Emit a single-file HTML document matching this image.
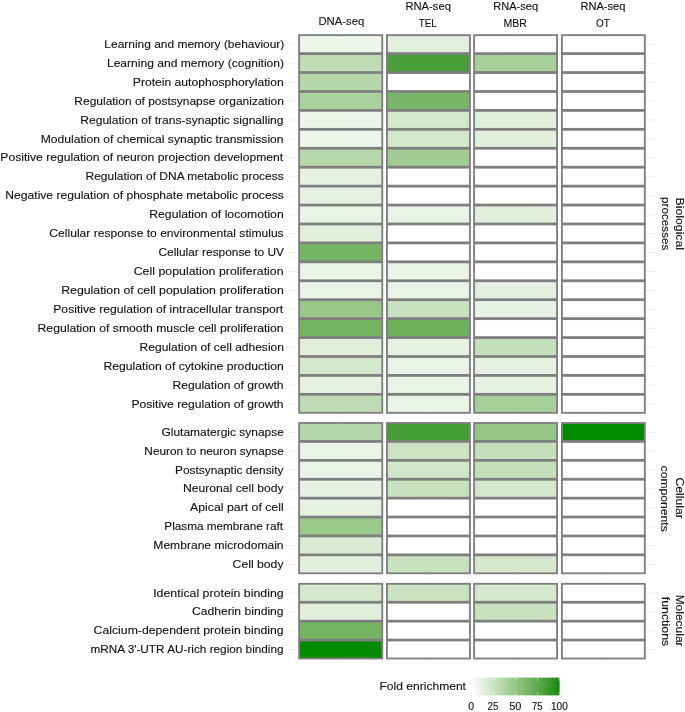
<!DOCTYPE html><html><head><meta charset="utf-8"><title>Fold enrichment heatmap</title><style>
html,body{margin:0;padding:0;background:#fff;}
svg{display:block;}
text{font-family:"Liberation Sans",sans-serif;fill:#111;stroke:#111;stroke-width:0.12px;}
</style></head><body>
<svg width="685" height="712" viewBox="0 0 685 712">
<rect width="685" height="712" fill="#fff"/>
<g stroke="#dedede" stroke-width="0.55">
<line x1="288.5" x2="655.6" y1="44.35" y2="44.35"/>
<line x1="288.5" x2="655.6" y1="63.28" y2="63.28"/>
<line x1="288.5" x2="655.6" y1="82.21" y2="82.21"/>
<line x1="288.5" x2="655.6" y1="101.14" y2="101.14"/>
<line x1="288.5" x2="655.6" y1="120.07" y2="120.07"/>
<line x1="288.5" x2="655.6" y1="139.00" y2="139.00"/>
<line x1="288.5" x2="655.6" y1="157.93" y2="157.93"/>
<line x1="288.5" x2="655.6" y1="176.86" y2="176.86"/>
<line x1="288.5" x2="655.6" y1="195.79" y2="195.79"/>
<line x1="288.5" x2="655.6" y1="214.72" y2="214.72"/>
<line x1="288.5" x2="655.6" y1="233.65" y2="233.65"/>
<line x1="288.5" x2="655.6" y1="252.58" y2="252.58"/>
<line x1="288.5" x2="655.6" y1="271.51" y2="271.51"/>
<line x1="288.5" x2="655.6" y1="290.44" y2="290.44"/>
<line x1="288.5" x2="655.6" y1="309.37" y2="309.37"/>
<line x1="288.5" x2="655.6" y1="328.30" y2="328.30"/>
<line x1="288.5" x2="655.6" y1="347.23" y2="347.23"/>
<line x1="288.5" x2="655.6" y1="366.16" y2="366.16"/>
<line x1="288.5" x2="655.6" y1="385.09" y2="385.09"/>
<line x1="288.5" x2="655.6" y1="404.02" y2="404.02"/>
<line x1="340.70" x2="340.70" y1="33.23" y2="414.75"/>
<line x1="428.42" x2="428.42" y1="33.23" y2="414.75"/>
<line x1="515.60" x2="515.60" y1="33.23" y2="414.75"/>
<line x1="603.38" x2="603.38" y1="33.23" y2="414.75"/>
<line x1="288.5" x2="655.6" y1="432.20" y2="432.20"/>
<line x1="288.5" x2="655.6" y1="451.10" y2="451.10"/>
<line x1="288.5" x2="655.6" y1="470.00" y2="470.00"/>
<line x1="288.5" x2="655.6" y1="488.90" y2="488.90"/>
<line x1="288.5" x2="655.6" y1="507.80" y2="507.80"/>
<line x1="288.5" x2="655.6" y1="526.70" y2="526.70"/>
<line x1="288.5" x2="655.6" y1="545.60" y2="545.60"/>
<line x1="288.5" x2="655.6" y1="564.50" y2="564.50"/>
<line x1="340.70" x2="340.70" y1="421.07" y2="575.22"/>
<line x1="428.42" x2="428.42" y1="421.07" y2="575.22"/>
<line x1="515.60" x2="515.60" y1="421.07" y2="575.22"/>
<line x1="603.38" x2="603.38" y1="421.07" y2="575.22"/>
<line x1="288.5" x2="655.6" y1="593.00" y2="593.00"/>
<line x1="288.5" x2="655.6" y1="611.90" y2="611.90"/>
<line x1="288.5" x2="655.6" y1="630.80" y2="630.80"/>
<line x1="288.5" x2="655.6" y1="649.70" y2="649.70"/>
<line x1="340.70" x2="340.70" y1="581.88" y2="660.42"/>
<line x1="428.42" x2="428.42" y1="581.88" y2="660.42"/>
<line x1="515.60" x2="515.60" y1="581.88" y2="660.42"/>
<line x1="603.38" x2="603.38" y1="581.88" y2="660.42"/>
</g>
<g stroke="#7f7f7f" stroke-width="1.85">
<rect x="299.12" y="35.15" width="83.15" height="18.00" fill="#eef6eb"/>
<rect x="386.93" y="35.15" width="82.99" height="18.00" fill="#e4f0df"/>
<rect x="474.12" y="35.15" width="82.95" height="18.00" fill="#ffffff"/>
<rect x="561.92" y="35.15" width="82.91" height="18.00" fill="#ffffff"/>
<rect x="299.12" y="54.08" width="83.15" height="18.00" fill="#bedbb3"/>
<rect x="386.93" y="54.08" width="82.99" height="18.00" fill="#4a9f3a"/>
<rect x="474.12" y="54.08" width="82.95" height="18.00" fill="#a7cf99"/>
<rect x="561.92" y="54.08" width="82.91" height="18.00" fill="#ffffff"/>
<rect x="299.12" y="73.01" width="83.15" height="18.00" fill="#b6d7aa"/>
<rect x="386.93" y="73.01" width="82.99" height="18.00" fill="#ffffff"/>
<rect x="474.12" y="73.01" width="82.95" height="18.00" fill="#ffffff"/>
<rect x="561.92" y="73.01" width="82.91" height="18.00" fill="#ffffff"/>
<rect x="299.12" y="91.94" width="83.15" height="18.00" fill="#abd19e"/>
<rect x="386.93" y="91.94" width="82.99" height="18.00" fill="#79b669"/>
<rect x="474.12" y="91.94" width="82.95" height="18.00" fill="#ffffff"/>
<rect x="561.92" y="91.94" width="82.91" height="18.00" fill="#ffffff"/>
<rect x="299.12" y="110.87" width="83.15" height="18.00" fill="#eef6eb"/>
<rect x="386.93" y="110.87" width="82.99" height="18.00" fill="#d3e7cb"/>
<rect x="474.12" y="110.87" width="82.95" height="18.00" fill="#e2efdc"/>
<rect x="561.92" y="110.87" width="82.91" height="18.00" fill="#ffffff"/>
<rect x="299.12" y="129.80" width="83.15" height="18.00" fill="#eef6eb"/>
<rect x="386.93" y="129.80" width="82.99" height="18.00" fill="#d3e7cb"/>
<rect x="474.12" y="129.80" width="82.95" height="18.00" fill="#e2efdc"/>
<rect x="561.92" y="129.80" width="82.91" height="18.00" fill="#ffffff"/>
<rect x="299.12" y="148.73" width="83.15" height="18.00" fill="#b8d8ac"/>
<rect x="386.93" y="148.73" width="82.99" height="18.00" fill="#a3cc95"/>
<rect x="474.12" y="148.73" width="82.95" height="18.00" fill="#ffffff"/>
<rect x="561.92" y="148.73" width="82.91" height="18.00" fill="#ffffff"/>
<rect x="299.12" y="167.66" width="83.15" height="18.00" fill="#e6f1e1"/>
<rect x="386.93" y="167.66" width="82.99" height="18.00" fill="#ffffff"/>
<rect x="474.12" y="167.66" width="82.95" height="18.00" fill="#ffffff"/>
<rect x="561.92" y="167.66" width="82.91" height="18.00" fill="#ffffff"/>
<rect x="299.12" y="186.59" width="83.15" height="18.00" fill="#e6f1e1"/>
<rect x="386.93" y="186.59" width="82.99" height="18.00" fill="#ffffff"/>
<rect x="474.12" y="186.59" width="82.95" height="18.00" fill="#ffffff"/>
<rect x="561.92" y="186.59" width="82.91" height="18.00" fill="#ffffff"/>
<rect x="299.12" y="205.52" width="83.15" height="18.00" fill="#eaf4e6"/>
<rect x="386.93" y="205.52" width="82.99" height="18.00" fill="#eaf4e6"/>
<rect x="474.12" y="205.52" width="82.95" height="18.00" fill="#e2efdc"/>
<rect x="561.92" y="205.52" width="82.91" height="18.00" fill="#ffffff"/>
<rect x="299.12" y="224.45" width="83.15" height="18.00" fill="#e2efdc"/>
<rect x="386.93" y="224.45" width="82.99" height="18.00" fill="#ffffff"/>
<rect x="474.12" y="224.45" width="82.95" height="18.00" fill="#ffffff"/>
<rect x="561.92" y="224.45" width="82.91" height="18.00" fill="#ffffff"/>
<rect x="299.12" y="243.38" width="83.15" height="18.00" fill="#75b464"/>
<rect x="386.93" y="243.38" width="82.99" height="18.00" fill="#ffffff"/>
<rect x="474.12" y="243.38" width="82.95" height="18.00" fill="#ffffff"/>
<rect x="561.92" y="243.38" width="82.91" height="18.00" fill="#ffffff"/>
<rect x="299.12" y="262.31" width="83.15" height="18.00" fill="#eaf4e6"/>
<rect x="386.93" y="262.31" width="82.99" height="18.00" fill="#eaf4e6"/>
<rect x="474.12" y="262.31" width="82.95" height="18.00" fill="#ffffff"/>
<rect x="561.92" y="262.31" width="82.91" height="18.00" fill="#ffffff"/>
<rect x="299.12" y="281.24" width="83.15" height="18.00" fill="#eaf4e6"/>
<rect x="386.93" y="281.24" width="82.99" height="18.00" fill="#eaf4e6"/>
<rect x="474.12" y="281.24" width="82.95" height="18.00" fill="#e4f0df"/>
<rect x="561.92" y="281.24" width="82.91" height="18.00" fill="#ffffff"/>
<rect x="299.12" y="300.17" width="83.15" height="18.00" fill="#98c789"/>
<rect x="386.93" y="300.17" width="82.99" height="18.00" fill="#c8e1bf"/>
<rect x="474.12" y="300.17" width="82.95" height="18.00" fill="#e8f2e4"/>
<rect x="561.92" y="300.17" width="82.91" height="18.00" fill="#ffffff"/>
<rect x="299.12" y="319.10" width="83.15" height="18.00" fill="#73b362"/>
<rect x="386.93" y="319.10" width="82.99" height="18.00" fill="#6eb15d"/>
<rect x="474.12" y="319.10" width="82.95" height="18.00" fill="#ffffff"/>
<rect x="561.92" y="319.10" width="82.91" height="18.00" fill="#ffffff"/>
<rect x="299.12" y="338.03" width="83.15" height="18.00" fill="#e0eeda"/>
<rect x="386.93" y="338.03" width="82.99" height="18.00" fill="#e6f1e1"/>
<rect x="474.12" y="338.03" width="82.95" height="18.00" fill="#c4dfbb"/>
<rect x="561.92" y="338.03" width="82.91" height="18.00" fill="#ffffff"/>
<rect x="299.12" y="356.96" width="83.15" height="18.00" fill="#d3e7cb"/>
<rect x="386.93" y="356.96" width="82.99" height="18.00" fill="#eaf4e6"/>
<rect x="474.12" y="356.96" width="82.95" height="18.00" fill="#e6f1e1"/>
<rect x="561.92" y="356.96" width="82.91" height="18.00" fill="#ffffff"/>
<rect x="299.12" y="375.89" width="83.15" height="18.00" fill="#e6f1e1"/>
<rect x="386.93" y="375.89" width="82.99" height="18.00" fill="#eaf4e6"/>
<rect x="474.12" y="375.89" width="82.95" height="18.00" fill="#e6f1e1"/>
<rect x="561.92" y="375.89" width="82.91" height="18.00" fill="#ffffff"/>
<rect x="299.12" y="394.82" width="83.15" height="18.00" fill="#c0dcb6"/>
<rect x="386.93" y="394.82" width="82.99" height="18.00" fill="#eaf4e6"/>
<rect x="474.12" y="394.82" width="82.95" height="18.00" fill="#a7cf99"/>
<rect x="561.92" y="394.82" width="82.91" height="18.00" fill="#ffffff"/>
<rect x="299.12" y="423.00" width="83.15" height="18.00" fill="#b3d6a8"/>
<rect x="386.93" y="423.00" width="82.99" height="18.00" fill="#449d35"/>
<rect x="474.12" y="423.00" width="82.95" height="18.00" fill="#96c587"/>
<rect x="561.92" y="423.00" width="82.91" height="18.00" fill="#008b00"/>
<rect x="299.12" y="441.90" width="83.15" height="18.00" fill="#eaf4e6"/>
<rect x="386.93" y="441.90" width="82.99" height="18.00" fill="#cde3c4"/>
<rect x="474.12" y="441.90" width="82.95" height="18.00" fill="#c4dfbb"/>
<rect x="561.92" y="441.90" width="82.91" height="18.00" fill="#ffffff"/>
<rect x="299.12" y="460.80" width="83.15" height="18.00" fill="#eaf4e6"/>
<rect x="386.93" y="460.80" width="82.99" height="18.00" fill="#d1e6c9"/>
<rect x="474.12" y="460.80" width="82.95" height="18.00" fill="#c4dfbb"/>
<rect x="561.92" y="460.80" width="82.91" height="18.00" fill="#ffffff"/>
<rect x="299.12" y="479.70" width="83.15" height="18.00" fill="#e8f2e4"/>
<rect x="386.93" y="479.70" width="82.99" height="18.00" fill="#c8e1bf"/>
<rect x="474.12" y="479.70" width="82.95" height="18.00" fill="#d3e7cb"/>
<rect x="561.92" y="479.70" width="82.91" height="18.00" fill="#ffffff"/>
<rect x="299.12" y="498.60" width="83.15" height="18.00" fill="#e6f1e1"/>
<rect x="386.93" y="498.60" width="82.99" height="18.00" fill="#ffffff"/>
<rect x="474.12" y="498.60" width="82.95" height="18.00" fill="#ffffff"/>
<rect x="561.92" y="498.60" width="82.91" height="18.00" fill="#ffffff"/>
<rect x="299.12" y="517.50" width="83.15" height="18.00" fill="#9ac88b"/>
<rect x="386.93" y="517.50" width="82.99" height="18.00" fill="#ffffff"/>
<rect x="474.12" y="517.50" width="82.95" height="18.00" fill="#ffffff"/>
<rect x="561.92" y="517.50" width="82.91" height="18.00" fill="#ffffff"/>
<rect x="299.12" y="536.40" width="83.15" height="18.00" fill="#dbebd5"/>
<rect x="386.93" y="536.40" width="82.99" height="18.00" fill="#ffffff"/>
<rect x="474.12" y="536.40" width="82.95" height="18.00" fill="#ffffff"/>
<rect x="561.92" y="536.40" width="82.91" height="18.00" fill="#ffffff"/>
<rect x="299.12" y="555.30" width="83.15" height="18.00" fill="#e2efdc"/>
<rect x="386.93" y="555.30" width="82.99" height="18.00" fill="#c8e1bf"/>
<rect x="474.12" y="555.30" width="82.95" height="18.00" fill="#d5e8ce"/>
<rect x="561.92" y="555.30" width="82.91" height="18.00" fill="#ffffff"/>
<rect x="299.12" y="583.80" width="83.15" height="18.00" fill="#d5e8ce"/>
<rect x="386.93" y="583.80" width="82.99" height="18.00" fill="#cbe2c2"/>
<rect x="474.12" y="583.80" width="82.95" height="18.00" fill="#d5e8ce"/>
<rect x="561.92" y="583.80" width="82.91" height="18.00" fill="#ffffff"/>
<rect x="299.12" y="602.70" width="83.15" height="18.00" fill="#e2efdc"/>
<rect x="386.93" y="602.70" width="82.99" height="18.00" fill="#ffffff"/>
<rect x="474.12" y="602.70" width="82.95" height="18.00" fill="#c8e1bf"/>
<rect x="561.92" y="602.70" width="82.91" height="18.00" fill="#ffffff"/>
<rect x="299.12" y="621.60" width="83.15" height="18.00" fill="#75b464"/>
<rect x="386.93" y="621.60" width="82.99" height="18.00" fill="#ffffff"/>
<rect x="474.12" y="621.60" width="82.95" height="18.00" fill="#ffffff"/>
<rect x="561.92" y="621.60" width="82.91" height="18.00" fill="#ffffff"/>
<rect x="299.12" y="640.50" width="83.15" height="18.00" fill="#008b00"/>
<rect x="386.93" y="640.50" width="82.99" height="18.00" fill="#ffffff"/>
<rect x="474.12" y="640.50" width="82.95" height="18.00" fill="#ffffff"/>
<rect x="561.92" y="640.50" width="82.91" height="18.00" fill="#ffffff"/>
</g>
<defs><linearGradient id="lg" x1="0" x2="1" y1="0" y2="0">
<stop offset="0%" stop-color="#ffffff"/>
<stop offset="5%" stop-color="#f5f9f3"/>
<stop offset="10%" stop-color="#eaf4e6"/>
<stop offset="15%" stop-color="#e0eeda"/>
<stop offset="20%" stop-color="#d5e8ce"/>
<stop offset="25%" stop-color="#cbe2c2"/>
<stop offset="30%" stop-color="#c0dcb6"/>
<stop offset="35%" stop-color="#b6d7aa"/>
<stop offset="40%" stop-color="#abd19e"/>
<stop offset="45%" stop-color="#a0cb92"/>
<stop offset="50%" stop-color="#96c587"/>
<stop offset="55%" stop-color="#8bc07b"/>
<stop offset="60%" stop-color="#80ba70"/>
<stop offset="65%" stop-color="#75b464"/>
<stop offset="70%" stop-color="#6aae59"/>
<stop offset="75%" stop-color="#5ea84d"/>
<stop offset="80%" stop-color="#51a341"/>
<stop offset="85%" stop-color="#449d35"/>
<stop offset="90%" stop-color="#359727"/>
<stop offset="95%" stop-color="#239118"/>
<stop offset="100%" stop-color="#008b00"/>
</linearGradient></defs>
<rect x="471.50" y="677.60" width="88.10" height="17.80" fill="url(#lg)"/>
<g stroke="#fff" stroke-width="0.55" stroke-opacity="0.85">
<line x1="471.70" x2="471.70" y1="677.60" y2="681.10"/>
<line x1="471.70" x2="471.70" y1="691.90" y2="695.40"/>
<line x1="493.50" x2="493.50" y1="677.60" y2="681.10"/>
<line x1="493.50" x2="493.50" y1="691.90" y2="695.40"/>
<line x1="515.60" x2="515.60" y1="677.60" y2="681.10"/>
<line x1="515.60" x2="515.60" y1="691.90" y2="695.40"/>
<line x1="537.60" x2="537.60" y1="677.60" y2="681.10"/>
<line x1="537.60" x2="537.60" y1="691.90" y2="695.40"/>
<line x1="558.90" x2="558.90" y1="677.60" y2="681.10"/>
<line x1="558.90" x2="558.90" y1="691.90" y2="695.40"/>
</g>
<g opacity="0.999">
<text x="104.35" y="47.87" font-size="11.80" textLength="179.99" lengthAdjust="spacingAndGlyphs">Learning and memory (behaviour)</text>
<text x="106.94" y="66.80" font-size="11.80" textLength="177.11" lengthAdjust="spacingAndGlyphs">Learning and memory (cognition)</text>
<text x="132.81" y="85.73" font-size="11.80" textLength="150.96" lengthAdjust="spacingAndGlyphs">Protein autophosphorylation</text>
<text x="74.38" y="104.66" font-size="11.80" textLength="209.48" lengthAdjust="spacingAndGlyphs">Regulation of postsynapse organization</text>
<text x="80.27" y="123.59" font-size="11.80" textLength="203.29" lengthAdjust="spacingAndGlyphs">Regulation of trans-synaptic signalling</text>
<text x="40.76" y="142.52" font-size="11.80" textLength="242.78" lengthAdjust="spacingAndGlyphs">Modulation of chemical synaptic transmission</text>
<text x="0.36" y="161.45" font-size="11.80" textLength="282.82" lengthAdjust="spacingAndGlyphs">Positive regulation of neuron projection development</text>
<text x="85.58" y="180.38" font-size="11.80" textLength="198.07" lengthAdjust="spacingAndGlyphs">Regulation of DNA metabolic process</text>
<text x="5.37" y="199.31" font-size="11.80" textLength="278.39" lengthAdjust="spacingAndGlyphs">Negative regulation of phosphate metabolic process</text>
<text x="149.25" y="218.24" font-size="11.80" textLength="134.46" lengthAdjust="spacingAndGlyphs">Regulation of locomotion</text>
<text x="49.37" y="237.17" font-size="11.80" textLength="234.29" lengthAdjust="spacingAndGlyphs">Cellular response to environmental stimulus</text>
<text x="158.48" y="256.10" font-size="11.80" textLength="125.55" lengthAdjust="spacingAndGlyphs">Cellular response to UV</text>
<text x="133.66" y="275.03" font-size="11.80" textLength="149.93" lengthAdjust="spacingAndGlyphs">Cell population proliferation</text>
<text x="61.15" y="293.96" font-size="11.80" textLength="222.63" lengthAdjust="spacingAndGlyphs">Regulation of cell population proliferation</text>
<text x="53.26" y="312.89" font-size="11.80" textLength="229.96" lengthAdjust="spacingAndGlyphs">Positive regulation of intracellular transport</text>
<text x="37.56" y="331.82" font-size="11.80" textLength="246.10" lengthAdjust="spacingAndGlyphs">Regulation of smooth muscle cell proliferation</text>
<text x="139.62" y="350.75" font-size="11.80" textLength="144.32" lengthAdjust="spacingAndGlyphs">Regulation of cell adhesion</text>
<text x="103.41" y="369.68" font-size="11.80" textLength="180.32" lengthAdjust="spacingAndGlyphs">Regulation of cytokine production</text>
<text x="172.46" y="388.61" font-size="11.80" textLength="111.16" lengthAdjust="spacingAndGlyphs">Regulation of growth</text>
<text x="131.46" y="407.54" font-size="11.80" textLength="152.14" lengthAdjust="spacingAndGlyphs">Positive regulation of growth</text>
<text x="161.48" y="435.72" font-size="11.80" textLength="122.46" lengthAdjust="spacingAndGlyphs">Glutamatergic synapse</text>
<text x="144.39" y="454.62" font-size="11.80" textLength="139.47" lengthAdjust="spacingAndGlyphs">Neuron to neuron synapse</text>
<text x="175.08" y="473.52" font-size="11.80" textLength="108.40" lengthAdjust="spacingAndGlyphs">Postsynaptic density</text>
<text x="182.96" y="492.42" font-size="11.80" textLength="100.70" lengthAdjust="spacingAndGlyphs">Neuronal cell body</text>
<text x="190.08" y="511.32" font-size="11.80" textLength="93.58" lengthAdjust="spacingAndGlyphs">Apical part of cell</text>
<text x="164.35" y="530.22" font-size="11.80" textLength="118.73" lengthAdjust="spacingAndGlyphs">Plasma membrane raft</text>
<text x="153.32" y="549.12" font-size="11.80" textLength="130.29" lengthAdjust="spacingAndGlyphs">Membrane microdomain</text>
<text x="232.62" y="568.02" font-size="11.80" textLength="50.92" lengthAdjust="spacingAndGlyphs">Cell body</text>
<text x="153.16" y="596.52" font-size="11.80" textLength="130.57" lengthAdjust="spacingAndGlyphs">Identical protein binding</text>
<text x="191.92" y="615.42" font-size="11.80" textLength="91.69" lengthAdjust="spacingAndGlyphs">Cadherin binding</text>
<text x="93.62" y="634.32" font-size="11.80" textLength="190.02" lengthAdjust="spacingAndGlyphs">Calcium-dependent protein binding</text>
<text x="90.41" y="653.22" font-size="11.80" textLength="193.13" lengthAdjust="spacingAndGlyphs">mRNA 3&#39;-UTR AU-rich region binding</text>
<text transform="translate(675.50,197.60) rotate(90)" font-size="11.80" textLength="52.40" lengthAdjust="spacingAndGlyphs">Biological</text>
<text transform="translate(661.80,197.11) rotate(90)" font-size="11.80" textLength="53.32" lengthAdjust="spacingAndGlyphs">processes</text>
<text transform="translate(675.60,477.42) rotate(90)" font-size="11.80" textLength="41.33" lengthAdjust="spacingAndGlyphs">Cellular</text>
<text transform="translate(661.30,465.58) rotate(90)" font-size="11.80" textLength="66.14" lengthAdjust="spacingAndGlyphs">components</text>
<text transform="translate(675.60,594.63) rotate(90)" font-size="11.80" textLength="51.92" lengthAdjust="spacingAndGlyphs">Molecular</text>
<text transform="translate(661.60,596.77) rotate(90)" font-size="11.80" textLength="49.39" lengthAdjust="spacingAndGlyphs">functions</text>
<text x="318.41" y="24.80" font-size="11.80" textLength="45.86" lengthAdjust="spacingAndGlyphs">DNA-seq</text>
<text x="405.44" y="9.90" font-size="11.80" textLength="45.42" lengthAdjust="spacingAndGlyphs">RNA-seq</text>
<text x="418.84" y="26.80" font-size="11.80" textLength="18.00" lengthAdjust="spacingAndGlyphs">TEL</text>
<text x="493.26" y="9.90" font-size="11.80" textLength="44.80" lengthAdjust="spacingAndGlyphs">RNA-seq</text>
<text x="503.40" y="26.80" font-size="11.80" textLength="23.43" lengthAdjust="spacingAndGlyphs">MBR</text>
<text x="580.45" y="9.90" font-size="11.80" textLength="44.96" lengthAdjust="spacingAndGlyphs">RNA-seq</text>
<text x="596.10" y="26.80" font-size="11.80" textLength="13.81" lengthAdjust="spacingAndGlyphs">OT</text>
<text x="379.47" y="690.10" font-size="11.80" textLength="86.49" lengthAdjust="spacingAndGlyphs">Fold enrichment</text>
<text x="468.15" y="710.00" font-size="10.40" textLength="5.81" lengthAdjust="spacingAndGlyphs">0</text>
<text x="487.56" y="710.00" font-size="10.40" textLength="10.70" lengthAdjust="spacingAndGlyphs">25</text>
<text x="509.19" y="710.00" font-size="10.40" textLength="12.09" lengthAdjust="spacingAndGlyphs">50</text>
<text x="532.03" y="710.00" font-size="10.40" textLength="10.51" lengthAdjust="spacingAndGlyphs">75</text>
<text x="550.95" y="710.00" font-size="10.40" textLength="16.82" lengthAdjust="spacingAndGlyphs">100</text>
</g>
</svg></body></html>
